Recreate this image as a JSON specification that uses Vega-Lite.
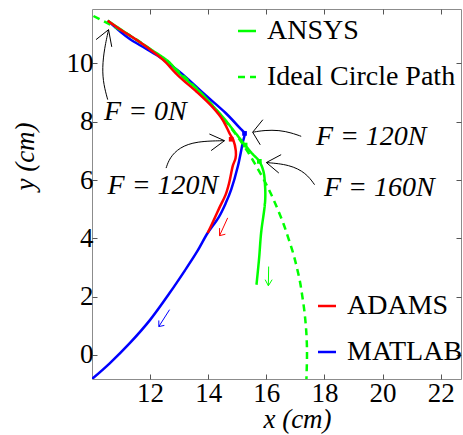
{
  "$schema": "https://vega.github.io/schema/vega-lite/v6.json",
  "width": 369,
  "height": 370,
  "autosize": {"type": "none"},
  "padding": {"left": 92, "top": 9, "right": 2, "bottom": 56},
  "background": "white",
  "config": {
    "view": {"stroke": "#8c8c8c", "strokeWidth": 1},
    "font": "Liberation Serif",
    "axis": {
      "grid": false, "domain": false, "ticks": true, "tickColor": "#555555", "tickSize": -5, "tickWidth": 1,
      "labelFont": "Liberation Serif", "labelFontSize": 27, "labelColor": "black", "labelFlush": false,
      "titleFont": "Liberation Serif", "titleFontSize": 27, "titleFontStyle": "italic", "titleFontWeight": "normal", "titleColor": "black"
    },
    "legend": {
      "labelFont": "Liberation Serif", "labelFontSize": 28, "labelColor": "black", "labelLimit": 400,
      "symbolType": "stroke", "symbolSize": 324, "symbolStrokeWidth": 2.5,
      "labelOffset": 6, "rowPadding": 18, "padding": 0
    }
  },
  "resolve": {"axis": {"x": "independent", "y": "independent"}},
  "datasets": {
    "curves": [
      {"s": "MATLAB", "i": 0, "x": 10.54, "y": 11.47},
      {"s": "MATLAB", "i": 1, "x": 11.0, "y": 11.07},
      {"s": "MATLAB", "i": 2, "x": 11.3, "y": 10.84},
      {"s": "MATLAB", "i": 3, "x": 11.7, "y": 10.6},
      {"s": "MATLAB", "i": 4, "x": 12.3, "y": 10.24},
      {"s": "MATLAB", "i": 5, "x": 13.0, "y": 9.73},
      {"s": "MATLAB", "i": 6, "x": 13.9, "y": 8.92},
      {"s": "MATLAB", "i": 7, "x": 14.6, "y": 8.3},
      {"s": "MATLAB", "i": 8, "x": 15.1, "y": 7.77},
      {"s": "MATLAB", "i": 9, "x": 15.25, "y": 7.6},
      {"s": "MATLAB", "i": 10, "x": 15.19, "y": 7.3},
      {"s": "MATLAB", "i": 11, "x": 15.02, "y": 6.47},
      {"s": "MATLAB", "i": 12, "x": 14.79, "y": 5.67},
      {"s": "MATLAB", "i": 13, "x": 14.6, "y": 5.2},
      {"s": "MATLAB", "i": 14, "x": 14.36, "y": 4.72},
      {"s": "MATLAB", "i": 15, "x": 13.98, "y": 4.18},
      {"s": "MATLAB", "i": 16, "x": 13.62, "y": 3.55},
      {"s": "MATLAB", "i": 17, "x": 13.2, "y": 2.9},
      {"s": "MATLAB", "i": 18, "x": 12.67, "y": 2.12},
      {"s": "MATLAB", "i": 19, "x": 12.0, "y": 1.2},
      {"s": "MATLAB", "i": 20, "x": 11.3, "y": 0.4},
      {"s": "MATLAB", "i": 21, "x": 10.6, "y": -0.3},
      {"s": "MATLAB", "i": 22, "x": 10.0, "y": -0.83},
      {"s": "ADAMS", "i": 0, "x": 10.54, "y": 11.47},
      {"s": "ADAMS", "i": 1, "x": 11.0, "y": 11.15},
      {"s": "ADAMS", "i": 2, "x": 11.5, "y": 10.83},
      {"s": "ADAMS", "i": 3, "x": 12.0, "y": 10.48},
      {"s": "ADAMS", "i": 4, "x": 12.44, "y": 10.13},
      {"s": "ADAMS", "i": 5, "x": 13.0, "y": 9.55},
      {"s": "ADAMS", "i": 6, "x": 13.6, "y": 9.03},
      {"s": "ADAMS", "i": 7, "x": 14.15, "y": 8.5},
      {"s": "ADAMS", "i": 8, "x": 14.5, "y": 8.06},
      {"s": "ADAMS", "i": 9, "x": 14.73, "y": 7.61},
      {"s": "ADAMS", "i": 10, "x": 14.86, "y": 7.38},
      {"s": "ADAMS", "i": 11, "x": 14.95, "y": 7.0},
      {"s": "ADAMS", "i": 12, "x": 14.94, "y": 6.75},
      {"s": "ADAMS", "i": 13, "x": 14.85, "y": 6.5},
      {"s": "ADAMS", "i": 14, "x": 14.72, "y": 5.9},
      {"s": "ADAMS", "i": 15, "x": 14.6, "y": 5.5},
      {"s": "ADAMS", "i": 16, "x": 14.39, "y": 5.06},
      {"s": "ADAMS", "i": 17, "x": 14.18, "y": 4.6},
      {"s": "ADAMS", "i": 18, "x": 13.98, "y": 4.18},
      {"s": "ANSYS", "i": 0, "x": 10.54, "y": 11.47},
      {"s": "ANSYS", "i": 1, "x": 11.24, "y": 11.0},
      {"s": "ANSYS", "i": 2, "x": 12.0, "y": 10.5},
      {"s": "ANSYS", "i": 3, "x": 12.65, "y": 10.05},
      {"s": "ANSYS", "i": 4, "x": 13.0, "y": 9.66},
      {"s": "ANSYS", "i": 5, "x": 13.74, "y": 9.0},
      {"s": "ANSYS", "i": 6, "x": 14.2, "y": 8.5},
      {"s": "ANSYS", "i": 7, "x": 14.62, "y": 8.02},
      {"s": "ANSYS", "i": 8, "x": 14.95, "y": 7.6},
      {"s": "ANSYS", "i": 9, "x": 15.25, "y": 7.22},
      {"s": "ANSYS", "i": 10, "x": 15.5, "y": 6.92},
      {"s": "ANSYS", "i": 11, "x": 15.76, "y": 6.64},
      {"s": "ANSYS", "i": 12, "x": 15.9, "y": 6.3},
      {"s": "ANSYS", "i": 13, "x": 15.95, "y": 5.9},
      {"s": "ANSYS", "i": 14, "x": 15.96, "y": 5.3},
      {"s": "ANSYS", "i": 15, "x": 15.82, "y": 4.18},
      {"s": "ANSYS", "i": 16, "x": 15.75, "y": 3.3},
      {"s": "ANSYS", "i": 17, "x": 15.66, "y": 2.4},
      {"s": "Ideal Circle Path", "i": 0, "x": 10.05, "y": 11.63},
      {"s": "Ideal Circle Path", "i": 1, "x": 11.24, "y": 11.0},
      {"s": "Ideal Circle Path", "i": 2, "x": 11.99, "y": 10.5},
      {"s": "Ideal Circle Path", "i": 3, "x": 12.65, "y": 10.0},
      {"s": "Ideal Circle Path", "i": 4, "x": 13.23, "y": 9.5},
      {"s": "Ideal Circle Path", "i": 5, "x": 13.74, "y": 9.0},
      {"s": "Ideal Circle Path", "i": 6, "x": 14.2, "y": 8.5},
      {"s": "Ideal Circle Path", "i": 7, "x": 14.62, "y": 8.0},
      {"s": "Ideal Circle Path", "i": 8, "x": 15.0, "y": 7.5},
      {"s": "Ideal Circle Path", "i": 9, "x": 15.34, "y": 7.0},
      {"s": "Ideal Circle Path", "i": 10, "x": 15.64, "y": 6.5},
      {"s": "Ideal Circle Path", "i": 11, "x": 15.92, "y": 6.0},
      {"s": "Ideal Circle Path", "i": 12, "x": 16.17, "y": 5.5},
      {"s": "Ideal Circle Path", "i": 13, "x": 16.39, "y": 5.0},
      {"s": "Ideal Circle Path", "i": 14, "x": 16.59, "y": 4.5},
      {"s": "Ideal Circle Path", "i": 15, "x": 16.76, "y": 4.0},
      {"s": "Ideal Circle Path", "i": 16, "x": 16.92, "y": 3.5},
      {"s": "Ideal Circle Path", "i": 17, "x": 17.05, "y": 3.0},
      {"s": "Ideal Circle Path", "i": 18, "x": 17.16, "y": 2.5},
      {"s": "Ideal Circle Path", "i": 19, "x": 17.24, "y": 2.0},
      {"s": "Ideal Circle Path", "i": 20, "x": 17.31, "y": 1.5},
      {"s": "Ideal Circle Path", "i": 21, "x": 17.36, "y": 1.0},
      {"s": "Ideal Circle Path", "i": 22, "x": 17.39, "y": 0.5},
      {"s": "Ideal Circle Path", "i": 23, "x": 17.4, "y": 0.0},
      {"s": "Ideal Circle Path", "i": 24, "x": 17.38, "y": -0.83}
    ],
    "markers": [
      {"x": 15.25, "y": 7.6, "c": "#0000ff"},
      {"x": 14.79, "y": 7.4, "c": "#ff0000"},
      {"x": 15.76, "y": 6.64, "c": "#00ff00"},
      {"x": 15.27, "y": 7.2, "c": "#00ff00"}
    ],
    "arrowCurves": [
      {"id": "a1", "i": 0, "x": 10.54, "y": 8.76},
      {"id": "a1", "i": 1, "x": 10.4, "y": 9.27},
      {"id": "a1", "i": 2, "x": 10.35, "y": 9.85},
      {"id": "a1", "i": 3, "x": 10.43, "y": 10.53},
      {"id": "a1", "i": 4, "x": 10.57, "y": 11.16},
      {"id": "a2", "i": 0, "x": 17.2, "y": 7.5},
      {"id": "a2", "i": 1, "x": 16.86, "y": 7.62},
      {"id": "a2", "i": 2, "x": 16.45, "y": 7.71},
      {"id": "a2", "i": 3, "x": 15.94, "y": 7.71},
      {"id": "a2", "i": 4, "x": 15.53, "y": 7.64},
      {"id": "a3", "i": 0, "x": 17.66, "y": 5.84},
      {"id": "a3", "i": 1, "x": 17.37, "y": 6.24},
      {"id": "a3", "i": 2, "x": 16.8, "y": 6.53},
      {"id": "a3", "i": 3, "x": 16.0, "y": 6.6},
      {"id": "a4", "i": 0, "x": 12.55, "y": 6.41},
      {"id": "a4", "i": 1, "x": 12.67, "y": 6.76},
      {"id": "a4", "i": 2, "x": 13.01, "y": 7.12},
      {"id": "a4", "i": 3, "x": 13.59, "y": 7.33},
      {"id": "a4", "i": 4, "x": 14.56, "y": 7.35}
    ],
    "segments": [
      {"id": "h1", "i": 0, "x": 10.14, "y": 10.82, "col": "black"},
      {"id": "h1", "i": 1, "x": 10.57, "y": 11.16, "col": "black"},
      {"id": "h1", "i": 2, "x": 10.68, "y": 10.57, "col": "black"},
      {"id": "h2", "i": 0, "x": 15.88, "y": 8.07, "col": "black"},
      {"id": "h2", "i": 1, "x": 15.53, "y": 7.64, "col": "black"},
      {"id": "h2", "i": 2, "x": 15.79, "y": 7.21, "col": "black"},
      {"id": "h3", "i": 0, "x": 16.51, "y": 6.87, "col": "black"},
      {"id": "h3", "i": 1, "x": 16.0, "y": 6.6, "col": "black"},
      {"id": "h3", "i": 2, "x": 16.43, "y": 6.24, "col": "black"},
      {"id": "h4", "i": 0, "x": 14.04, "y": 7.58, "col": "black"},
      {"id": "h4", "i": 1, "x": 14.56, "y": 7.35, "col": "black"},
      {"id": "h4", "i": 2, "x": 14.1, "y": 7.01, "col": "black"},
      {"id": "rs", "i": 0, "x": 14.67, "y": 4.7, "col": "#ff0000"},
      {"id": "rs", "i": 1, "x": 14.39, "y": 4.09, "col": "#ff0000"},
      {"id": "rh", "i": 0, "x": 14.39, "y": 4.35, "col": "#ff0000"},
      {"id": "rh", "i": 1, "x": 14.39, "y": 4.09, "col": "#ff0000"},
      {"id": "rh", "i": 2, "x": 14.59, "y": 4.14, "col": "#ff0000"},
      {"id": "gs", "i": 0, "x": 16.08, "y": 3.03, "col": "#00ff00"},
      {"id": "gs", "i": 1, "x": 16.07, "y": 2.37, "col": "#00ff00"},
      {"id": "gh", "i": 0, "x": 15.96, "y": 2.58, "col": "#00ff00"},
      {"id": "gh", "i": 1, "x": 16.07, "y": 2.37, "col": "#00ff00"},
      {"id": "gh", "i": 2, "x": 16.2, "y": 2.58, "col": "#00ff00"},
      {"id": "bs", "i": 0, "x": 12.67, "y": 1.55, "col": "#0000ff"},
      {"id": "bs", "i": 1, "x": 12.3, "y": 0.97, "col": "#0000ff"},
      {"id": "bh", "i": 0, "x": 12.3, "y": 1.18, "col": "#0000ff"},
      {"id": "bh", "i": 1, "x": 12.3, "y": 0.97, "col": "#0000ff"},
      {"id": "bh", "i": 2, "x": 12.49, "y": 1.01, "col": "#0000ff"}
    ],
    "notes": [
      {"x": 11.84, "y": 8.32, "t": "F = 0N"},
      {"x": 12.44, "y": 5.78, "t": "F = 120N"},
      {"x": 19.61, "y": 7.48, "t": "F = 120N"},
      {"x": 19.89, "y": 5.73, "t": "F = 160N"}
    ]
  },
  "layer": [
    {
      "data": {"name": "curves"},
      "transform": [{"filter": "datum.s === 'MATLAB'"}],
      "mark": {"type": "line", "strokeWidth": 2.5, "clip": true, "interpolate": "catmull-rom"},
      "encoding": {
        "x": {"field": "x", "type": "quantitative", "scale": {"domain": [10, 22.7], "nice": false, "zero": false},
              "axis": {"orient": "bottom", "values": [12, 14, 16, 18, 20, 22], "labelPadding": 6, "title": "x (cm)",
                       "titleX": 205, "titleY": 40, "titleBaseline": "middle", "titleAlign": "center", "titleAnchor": "start"}},
        "y": {"field": "y", "type": "quantitative", "scale": {"domain": [-0.83, 11.87], "nice": false, "zero": false},
              "axis": {"orient": "left", "values": [0, 2, 4, 6, 8, 10], "labelPadding": 4, "title": "y (cm)",
                       "titleX": -67, "titleY": 147, "titleAngle": 270, "titleBaseline": "middle", "titleAlign": "center", "titleAnchor": "start"}},
        "order": {"field": "i", "type": "quantitative"},
        "color": {"field": "s", "type": "nominal",
                  "scale": {"domain": ["ADAMS", "MATLAB"], "range": ["#ff0000", "#0000ff"]},
                  "legend": {"orient": "none", "legendX": 221, "legendY": 283, "title": null}}
      }
    },
    {
      "data": {"name": "curves"},
      "transform": [{"filter": "datum.s === 'ANSYS' || datum.s === 'Ideal Circle Path'"}],
      "mark": {"type": "line", "strokeWidth": 2.5, "color": "#00ff00", "clip": true, "interpolate": "catmull-rom"},
      "encoding": {
        "x": {"field": "x", "type": "quantitative",
              "axis": {"orient": "top", "values": [12, 14, 16, 18, 20, 22], "labels": false, "title": null}},
        "y": {"field": "y", "type": "quantitative",
              "axis": {"orient": "right", "values": [0, 2, 4, 6, 8, 10], "labels": false, "title": null}},
        "order": {"field": "i", "type": "quantitative"},
        "strokeDash": {"field": "s", "type": "nominal",
                       "scale": {"domain": ["ANSYS", "Ideal Circle Path"], "range": [[1, 0], [7, 5]]},
                       "legend": {"orient": "none", "legendX": 141, "legendY": 8, "title": null, "symbolStrokeColor": "#00ff00"}}
      }
    },
    {
      "data": {"name": "curves"},
      "transform": [{"filter": "datum.s === 'ADAMS'"}],
      "mark": {"type": "line", "strokeWidth": 2.5, "clip": true, "interpolate": "catmull-rom"},
      "encoding": {
        "x": {"field": "x", "type": "quantitative", "axis": null},
        "y": {"field": "y", "type": "quantitative", "axis": null},
        "order": {"field": "i", "type": "quantitative"},
        "color": {"field": "s", "type": "nominal",
                  "scale": {"domain": ["ADAMS", "MATLAB"], "range": ["#ff0000", "#0000ff"]},
                  "legend": {"orient": "none", "legendX": 221, "legendY": 283, "title": null}}
      }
    },
    {
      "data": {"name": "markers"},
      "mark": {"type": "point", "shape": "square", "filled": true, "size": 22, "opacity": 1},
      "encoding": {
        "x": {"field": "x", "type": "quantitative", "axis": null},
        "y": {"field": "y", "type": "quantitative", "axis": null},
        "fill": {"field": "c", "type": "nominal", "scale": null}
      }
    },
    {
      "data": {"name": "arrowCurves"},
      "mark": {"type": "line", "interpolate": "basis", "strokeWidth": 1, "color": "black"},
      "encoding": {
        "x": {"field": "x", "type": "quantitative", "axis": null},
        "y": {"field": "y", "type": "quantitative", "axis": null},
        "detail": {"field": "id", "type": "nominal"},
        "order": {"field": "i", "type": "quantitative"}
      }
    },
    {
      "data": {"name": "segments"},
      "mark": {"type": "line", "strokeWidth": 1},
      "encoding": {
        "x": {"field": "x", "type": "quantitative", "axis": null},
        "y": {"field": "y", "type": "quantitative", "axis": null},
        "detail": {"field": "id", "type": "nominal"},
        "order": {"field": "i", "type": "quantitative"},
        "stroke": {"field": "col", "type": "nominal", "scale": null}
      }
    },
    {
      "data": {"name": "notes"},
      "mark": {"type": "text", "font": "Liberation Serif", "fontSize": 28, "fontStyle": "italic", "align": "center", "baseline": "middle", "color": "black"},
      "encoding": {
        "x": {"field": "x", "type": "quantitative", "axis": null},
        "y": {"field": "y", "type": "quantitative", "axis": null},
        "text": {"field": "t", "type": "nominal"}
      }
    }
  ]
}
